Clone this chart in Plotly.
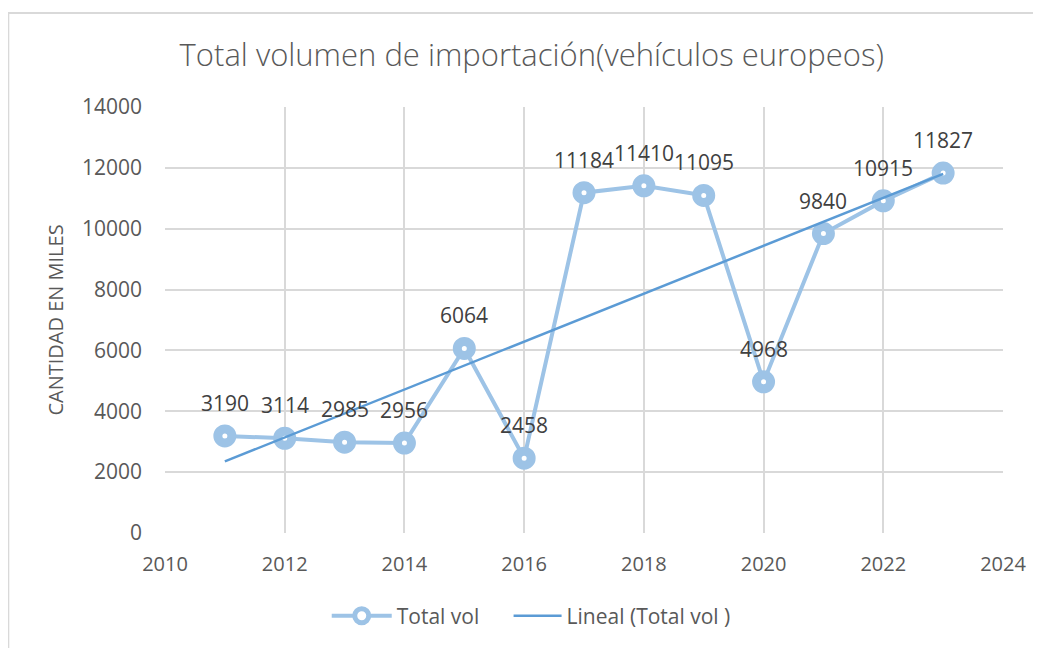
import plotly.graph_objects as go
import numpy as np

years = [2011, 2012, 2013, 2014, 2015, 2016, 2017, 2018, 2019, 2020, 2021, 2022, 2023]
total_vol = [3190, 3114, 2985, 2956, 6064, 2458, 11184, 11410, 11095, 4968, 9840, 10915, 11827]
x_ticks = [2010, 2012, 2014, 2016, 2018, 2020, 2022, 2024]
y_ticks = [0, 2000, 4000, 6000, 8000, 10000, 12000, 14000]

slope, intercept = np.polyfit(years, total_vol, 1)
trend_x = [years[0], years[-1]]
trend_y = [slope * x + intercept for x in trend_x]

FONT = "Open Sans"
GREY = "#595959"
fig = go.Figure()

fig.add_trace(go.Scatter(
    x=years, y=total_vol, mode="lines+markers", name="Total vol",
    line=dict(color="#9DC3E6", width=4),
    marker=dict(symbol="circle", size=14, color="white",
                line=dict(color="#9DC3E6", width=9)),
    legend="legend",
))
fig.add_trace(go.Scatter(
    x=trend_x, y=trend_y, mode="lines", name="Lineal (Total vol )",
    line=dict(color="#5B9BD5", width=2.5),
    legend="legend2",
))

for x, v in zip(years, total_vol):
    fig.add_annotation(x=x, y=v, text=str(v), showarrow=False,
                       yshift=33, yanchor="middle", xanchor="center",
                       font=dict(family=FONT, size=21, color="#404040"))

leg_common = dict(orientation="h", y=-0.195, yanchor="middle", xanchor="left",
                  font=dict(family=FONT, size=21, color=GREY),
                  bgcolor="rgba(0,0,0,0)")

fig.update_layout(
    width=1033, height=640,
    margin=dict(l=157, r=38, t=99, b=115),
    paper_bgcolor="white", plot_bgcolor="white",
    title=dict(text="Total volumen de importación(vehículos europeos)",
               x=0.507, xanchor="center", y=0.9266, yanchor="middle",
               font=dict(family=FONT, size=31, color=GREY, weight=300)),
    showlegend=True,
    legend=dict(x=0.193, itemwidth=60, **leg_common),
    legend2=dict(x=0.410, itemwidth=48, **leg_common),
    xaxis=dict(range=[2010, 2024], tickvals=x_ticks, showgrid=True,
               gridcolor="#D9D9D9", gridwidth=1.5, zeroline=False,
               showline=False, tickformat="d",
               tickfont=dict(family=FONT, size=20, color=GREY),
               ticks="", ticklabelstandoff=17),
    yaxis=dict(range=[0, 14000], tickvals=y_ticks, showgrid=True,
               gridcolor="#D9D9D9", gridwidth=1.5, zeroline=False,
               showline=False, tickformat="d",
               tickfont=dict(family=FONT, size=21, color=GREY),
               ticks="", ticklabelstandoff=22,
               title=dict(text="CANTIDAD EN MILES", standoff=12,
                          font=dict(family=FONT, size=20, color=GREY))),
    shapes=[dict(type="rect", xref="paper", yref="paper",
                 x0=-0.187, x1=1.044, y0=-0.4, y1=1.2207,
                 line=dict(color="#D9D9D9", width=2), layer="below")],
)
fig.write_html("out.html")
